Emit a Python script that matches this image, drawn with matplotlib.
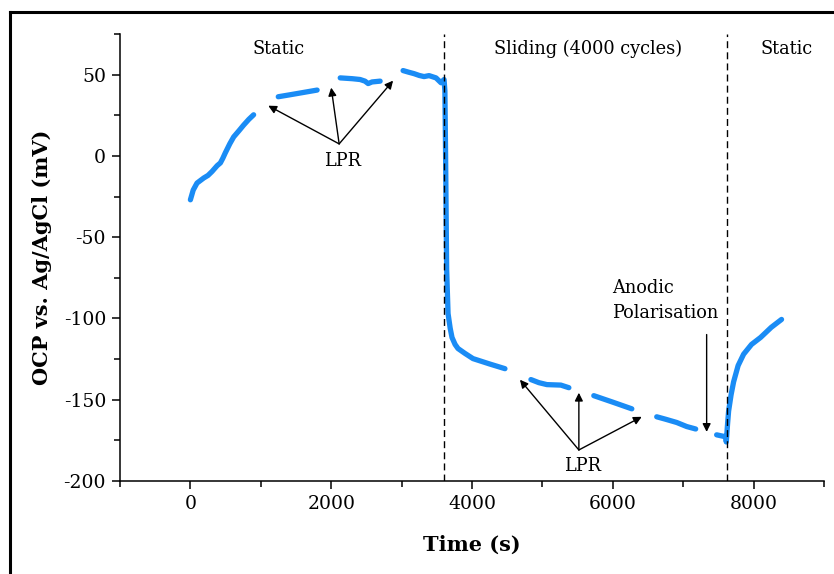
import numpy as np
import matplotlib
matplotlib.use("Agg")
import matplotlib.pyplot as plt
from matplotlib.lines import Line2D
from matplotlib.ticker import MultipleLocator

plt.rcParams['font.family'] = ['DejaVu Serif']
plt.rcParams['axes.unicode_minus'] = False

# OCP trace, split where the LPR / polarisation scans interrupt it
seg_time = [
    [0, 40, 94, 189, 250, 307, 380, 426, 460, 496, 560, 615, 690, 757, 830, 898],
    [1248, 1400, 1600, 1800],
    [2128, 2300, 2411, 2480, 2525, 2580, 2695],
    [3021, 3100, 3177, 3250, 3319, 3390, 3489, 3560, 3603, 3615, 3625, 3640,
     3660, 3690, 3716, 3760, 3801, 3900, 4014, 4250, 4468],
    [4837, 4950, 5064, 5262, 5376],
    [5730, 6000, 6270],
    [6624, 6750, 6908, 7050, 7177],
    [7475, 7603, 7612, 7630, 7645, 7680, 7716, 7780, 7858, 7970, 8099, 8250, 8397],
]
seg_ocp = [
    [-27, -21, -16.7, -13.6, -12, -9.6, -6, -4.3, -1.5, 1.9, 7.5, 11.7, 15.5, 19, 22.5, 25.3],
    [36.4, 37.5, 39, 40.5],
    [48, 47.5, 47, 46, 44.5, 45.5, 46],
    [52.5, 51.5, 50.6, 49.5, 48.8, 49.4, 48, 45, 47, 40, 0, -70,
     -97, -106, -111.7, -116, -118.5, -121.5, -124.7, -128, -130.9],
    [-137.6, -139.5, -140.7, -141, -142.6],
    [-147.5, -151.5, -155.6],
    [-160.5, -162, -164, -166.5, -168],
    [-171.6, -172.8, -176, -165, -157, -147, -139, -129, -122, -116, -111.7, -105.5, -100.6],
]

phase_bounds = [3600, 7620]
phase_labels = ["Static", "Sliding (4000 cycles)", "Static"]
phase_label_x = [1248, 5645, 8468]

lpr_top_origin = (2113, 7.4)
lpr_top_heads = [(1106, 30.9), (2000, 42), (2879, 46.3)]
lpr_bot_origin = (5518, -180.9)
lpr_bot_heads = [(4681, -137.7), (5518, -145.7), (6411, -160.5)]

fig = plt.figure(figsize=(8.34, 5.74), dpi=100)
ax = fig.add_axes([120/834, 93/574, 704/834, 447/574])

for t, v in zip(seg_time, seg_ocp):
    ax.plot(t, v, color='#1A8CF5', lw=3.8, solid_capstyle='round', solid_joinstyle='round')

for b in phase_bounds:
    ax.axvline(b, color='black', lw=1.0, dashes=(5, 3))

for lab, x in zip(phase_labels, phase_label_x):
    ax.text(x, 66, lab, ha='center', va='center', fontsize=12.8)

arrow = dict(arrowstyle='-|>', color='black', lw=1.0, mutation_scale=12, shrinkA=0, shrinkB=0)
for h in lpr_top_heads:
    ax.annotate('', xy=h, xytext=lpr_top_origin, arrowprops=arrow)
for h in lpr_bot_heads:
    ax.annotate('', xy=h, xytext=lpr_bot_origin, arrowprops=arrow)
ax.text(2163, -3.1, "LPR", ha='center', va='center', fontsize=12.8)
ax.text(5574, -191, "LPR", ha='center', va='center', fontsize=12.8)

ax.annotate('', xy=(7333, -169.8), xytext=(7333, -109.9), arrowprops=arrow)
ax.text(5986, -89, "Anodic\nPolarisation", ha='left', va='center', fontsize=12.8, linespacing=1.45)

ax.set_xlim(-1000, 9000)
ax.set_ylim(-200, 75)
ax.xaxis.set_major_locator(MultipleLocator(2000))
ax.xaxis.set_minor_locator(MultipleLocator(1000))
ax.yaxis.set_major_locator(MultipleLocator(50))
ax.yaxis.set_minor_locator(MultipleLocator(25))
ax.set_yticks([-200, -150, -100, -50, 0, 50])
ax.tick_params(which='major', direction='out', length=6, width=1.1, labelsize=13.5, pad=4)
ax.tick_params(which='minor', direction='out', length=4, width=1.1)
for s in ['top', 'right']:
    ax.spines[s].set_visible(False)
for s in ['left', 'bottom']:
    ax.spines[s].set_linewidth(1.1)

ax.set_xlabel("Time (s)", fontsize=15, fontweight='bold', labelpad=16)
ax.set_ylabel("OCP vs. Ag/AgCl (mV)", fontsize=15, fontweight='bold', labelpad=8)

# frame around the figure (top and left edges visible in the original crop)
fig.add_artist(Line2D([10/834, 10/834], [0, 1 - 12/574], color='black', lw=2.2))
fig.add_artist(Line2D([10/834, 1], [1 - 12/574, 1 - 12/574], color='black', lw=2.2))

fig.savefig("out.png", dpi=100)
